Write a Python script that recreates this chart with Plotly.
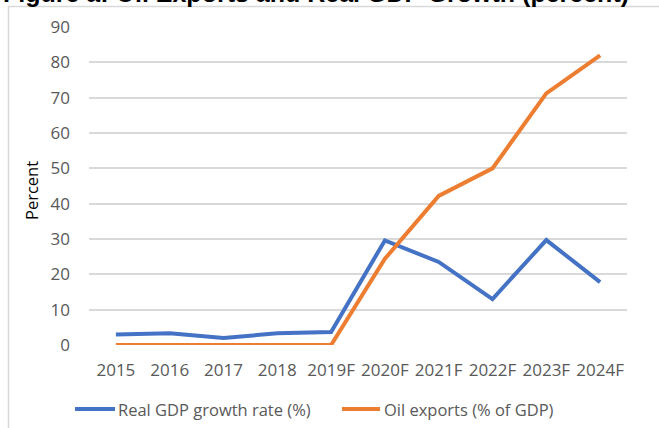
import plotly.graph_objects as go

# Data
years = ["2015", "2016", "2017", "2018", "2019F", "2020F", "2021F", "2022F", "2023F", "2024F"]
gdp_growth = [3.0, 3.3, 2.0, 3.3, 3.7, 29.6, 23.5, 13.0, 29.7, 17.8]
oil_exports = [0, 0, 0, 0, 0, 24.4, 42.2, 50.0, 71.2, 82.0]
y_ticks = [0, 10, 20, 30, 40, 50, 60, 70, 80, 90]

series_names = ["Real GDP growth rate (%)", "Oil exports (% of GDP)"]
title_text = "Figure a: Oil Exports and Real GDP Growth (percent)"

BLUE = "#4472C4"
ORANGE = "#ED7D31"
GRID = "#D9D9D9"
LABEL = "#595959"
FONT = "Open Sans"

W, H = 659, 428
L, R, T, B = 89, 32, 27, 83
pw, ph = W - L - R, H - T - B


def px_x(p):
    return (p - L) / pw


def px_y(p):
    return (H - B - p) / ph


fig = go.Figure()
fig.add_trace(go.Scatter(x=years, y=gdp_growth, mode="lines", name=series_names[0],
                         line=dict(color=BLUE, width=4), showlegend=False))
fig.add_trace(go.Scatter(x=years, y=oil_exports, mode="lines", name=series_names[1],
                         line=dict(color=ORANGE, width=4), showlegend=False))

shapes = [
    # chart frame
    dict(type="rect", xref="paper", yref="paper", layer="below",
         x0=px_x(8.5), x1=px_x(700), y0=px_y(470), y1=px_y(6.5),
         line=dict(color=GRID, width=1.5), fillcolor="rgba(0,0,0,0)"),
    # legend swatches
    dict(type="line", xref="paper", yref="paper", x0=px_x(75), x1=px_x(115),
         y0=px_y(409), y1=px_y(409), line=dict(color=BLUE, width=4)),
    dict(type="line", xref="paper", yref="paper", x0=px_x(342), x1=px_x(380),
         y0=px_y(409), y1=px_y(409), line=dict(color=ORANGE, width=4)),
]

annotations = [
    dict(text=series_names[0], xref="paper", yref="paper", x=px_x(116), y=px_y(409),
         xanchor="left", yanchor="middle", showarrow=False,
         font=dict(family=FONT, size=16.5, color=LABEL)),
    dict(text=series_names[1], xref="paper", yref="paper", x=px_x(382), y=px_y(409),
         xanchor="left", yanchor="middle", showarrow=False,
         font=dict(family=FONT, size=16.5, color=LABEL)),
    dict(text="<b>" + title_text + "</b>", xref="paper", yref="paper", x=px_x(1), y=px_y(8.5),
         xanchor="left", yanchor="bottom", showarrow=False,
         font=dict(family="Liberation Sans", size=25, color="black")),
    # vertical axis title
    dict(text="Percent", xref="paper", yref="paper", x=px_x(31), y=px_y(191),
         xanchor="center", yanchor="middle", textangle=-90, showarrow=False,
         font=dict(family=FONT, size=16.5, color="black")),
]

fig.update_layout(
    width=W, height=H,
    margin=dict(l=L, r=R, t=T, b=B),
    paper_bgcolor="white", plot_bgcolor="white",
    font=dict(family=FONT, size=17, color=LABEL),
    shapes=shapes, annotations=annotations,
    showlegend=False,
)
fig.update_xaxes(
    type="category", range=[-0.5, len(years) - 0.5],
    showgrid=False, showline=False, zeroline=False, ticks="",
    ticklabelstandoff=13,
    tickfont=dict(family=FONT, size=17, color=LABEL),
)
fig.update_yaxes(
    range=[0, 90], tickvals=y_ticks,
    showgrid=True, gridcolor=GRID, gridwidth=1.5,
    zeroline=False, showline=False, ticks="",
    ticklabelstandoff=18,
    tickfont=dict(family=FONT, size=17, color=LABEL),
)

fig.write_html("out.html")
